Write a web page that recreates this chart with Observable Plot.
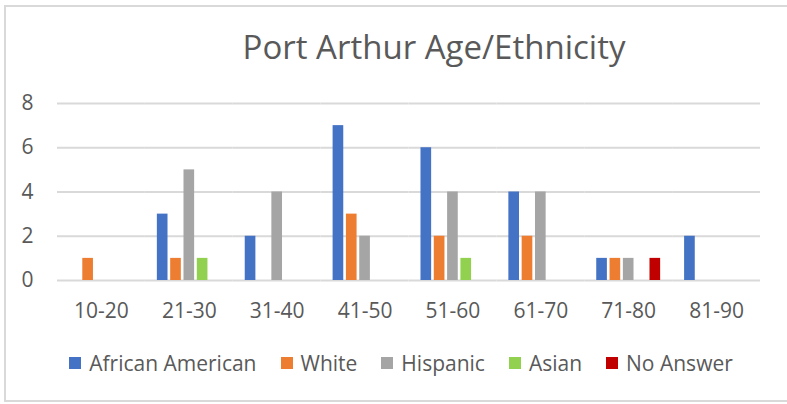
<!DOCTYPE html>
<html><head><meta charset="utf-8">
<script src="https://cdn.jsdelivr.net/npm/d3@7"></script>
<script src="https://cdn.jsdelivr.net/npm/@observablehq/plot@0.6"></script>
<style>
body{margin:0;width:787px;height:404px;overflow:hidden;background:#fff;font-family:"Open Sans",sans-serif;color:#595959;position:relative}
#frame{position:absolute;left:4px;top:5px;width:800px;height:397px;border:2px solid #d9d9d9;box-sizing:border-box}
#title{position:absolute;left:0;width:868px;top:25px;text-align:center;font-size:33px;line-height:44px}
#chart{position:absolute;left:0;top:80px}
#legend{position:absolute;left:0;width:802px;top:350px;display:flex;justify-content:center;gap:24px;font-size:21px;line-height:26px}
.item{display:flex;align-items:center}
.sw{width:12px;height:12px;margin-right:8px}
</style></head><body>
<div id="frame"></div>
<div id="title">Port Arthur Age/Ethnicity</div>
<div id="chart"></div>
<div id="legend"></div>
<script>
const categories = ["10-20","21-30","31-40","41-50","51-60","61-70","71-80","81-90"];
const series = ["African American","White","Hispanic","Asian","No Answer"];
const africanAmerican = [0,3,2,7,6,4,1,2];
const white           = [1,1,0,3,2,2,1,0];
const hispanic        = [0,5,4,2,4,4,1,0];
const asian           = [0,1,0,0,1,0,0,0];
const noAnswer        = [0,0,0,0,0,0,1,0];
const yTicks = [0,2,4,6,8];
const colors = ["#4472C4","#ED7D31","#A5A5A5","#92D050","#C00000"];

const valuesBySeries = [africanAmerican, white, hispanic, asian, noAnswer];
const rows = [];
series.forEach((s, i) => categories.forEach((c, j) => {
  rows.push({category: c, series: s, value: valuesBySeries[i][j]});
}));

const chart = Plot.plot({
  width: 787,
  height: 250,
  marginLeft: 57,
  marginRight: 27,
  marginTop: 23,
  marginBottom: 50,
  style: {fontFamily: "'Open Sans', sans-serif", fontSize: "21px", color: "#595959", background: "transparent", overflow: "visible"},
  fx: {domain: categories, padding: 0, round: false, axis: "bottom", tickSize: 0, tickPadding: 23, label: null},
  x: {domain: series, axis: null, round: false, paddingInner: 0.2, paddingOuter: 0.9},
  y: {domain: [0, 8], ticks: yTicks, tickSize: 0, tickPadding: 24, label: null, axis: "left"},
  color: {domain: series, range: colors},
  marks: [
    Plot.ruleY(yTicks, {stroke: "#d9d9d9", strokeWidth: 2}),
    Plot.barY(rows.filter(d => d.value > 0), {fx: "category", x: "series", y: "value", fill: "series"})
  ]
});
document.getElementById("chart").appendChild(chart);

const legend = document.getElementById("legend");
series.forEach((s, i) => {
  const item = document.createElement("div");
  item.className = "item";
  const sw = document.createElement("span");
  sw.className = "sw";
  sw.style.background = colors[i];
  const t = document.createElement("span");
  t.textContent = s;
  item.appendChild(sw); item.appendChild(t);
  legend.appendChild(item);
});
</script>
</body></html>
